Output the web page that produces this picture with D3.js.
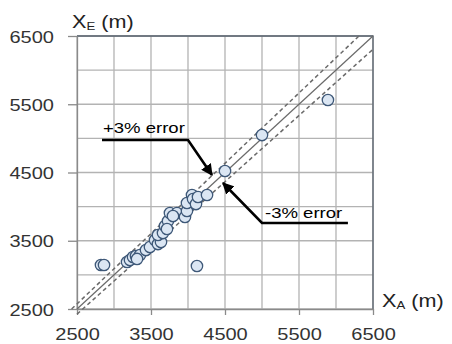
<!DOCTYPE html>
<html><head><meta charset="utf-8">
<script src="https://cdn.jsdelivr.net/npm/d3@7"></script>
<style>body{margin:0;background:#fff}svg{display:block}</style>
</head><body>
<svg id="c" width="452" height="344"></svg>
<script>
const xTicks = [2500, 3500, 4500, 5500, 6500];
const yTicks = [2500, 3500, 4500, 5500, 6500];
const gridValues = [2500,3000,3500,4000,4500,5000,5500,6000,6500];
const actualX = [2824,2865,3176,3216,3257,3297,3351,3311,3432,3486,3554,3594,3635,3594,3662,3689,3730,3716,3756,3851,3797,3959,3986,3986,4054,4068,4108,4135,4257,4121,4500,5000,5891];
const estimatedY = [3145,3145,3189,3218,3262,3276,3291,3233,3364,3408,3511,3452,3482,3584,3613,3716,3789,3672,3906,3906,3862,3848,3936,4053,4170,4112,4038,4141,4170,3130,4522,5049,5562];
const errorFactors = [1.03, 0.97];
const annotations = [
  {text: "+3% error", path: [[2838,4976],[4000,4976],[4324,4463]], textAt: [2850,5085]},
  {text: "-3% error", path: [[6161,3760],[5000,3760],[4473,4346]], textAt: [5040,3830]}
];

const svg = d3.select("#c");
const x = d3.scaleLinear().domain([2500,6500]).range([77,373]);
const y = d3.scaleLinear().domain([2500,6500]).range([309,36]);
const FONT = "'Liberation Sans', Arial, sans-serif";

svg.append("defs").append("marker")
  .attr("id","ah").attr("viewBox","0 0 10 10").attr("refX",9).attr("refY",5)
  .attr("markerWidth",4.5).attr("markerHeight",4.5).attr("orient","auto")
  .append("path").attr("d","M0,0 L10,5 L0,10 z").attr("fill","#000");

// grid
const g = svg.append("g");
g.selectAll(".gx").data(gridValues).join("line")
  .attr("x1",d=>x(d)).attr("x2",d=>x(d)).attr("y1",y(2500)).attr("y2",y(6500))
  .attr("stroke","#b3b3b3").attr("stroke-width",1.3);
g.selectAll(".gy").data(gridValues).join("line")
  .attr("y1",d=>y(d)).attr("y2",d=>y(d)).attr("x1",x(2500)).attr("x2",x(6500))
  .attr("stroke","#b3b3b3").attr("stroke-width",1.3);

// border top/right
svg.append("path")
  .attr("d",`M${x(2500)},${y(6500)}H${x(6500)}V${y(2500)}`)
  .attr("fill","none").attr("stroke","#56606c").attr("stroke-width",1.3);

// axes
const xAxis = d3.axisBottom(x).tickValues(xTicks).tickSize(6).tickSizeOuter(0).tickFormat(d3.format("d"));
const yAxis = d3.axisLeft(y).tickValues(yTicks).tickSize(9).tickSizeOuter(0).tickFormat(d3.format("d"));
const gx = svg.append("g").attr("transform",`translate(0,${y(2500)})`).call(xAxis);
const gy = svg.append("g").attr("transform",`translate(${x(2500)},0)`).call(yAxis);
[gx,gy].forEach(a=>{
  a.selectAll("path,line").attr("stroke","#8a8a8a").attr("stroke-width",1.3);
  a.selectAll("text").remove();
});
// tick labels (stretched)
gx.selectAll(".tick").append("text")
  .attr("transform","translate(0,31) scale(1.25,1)")
  .attr("text-anchor","middle").attr("font-family",FONT).attr("font-size",16).attr("fill","#333")
  .text(d=>d3.format("d")(d));
gy.selectAll(".tick").append("text")
  .attr("transform","translate(-23,6) scale(1.25,1)")
  .attr("text-anchor","end").attr("font-family",FONT).attr("font-size",16).attr("fill","#333")
  .text(d=>d3.format("d")(d));

// diagonal lines
const line = d3.line().x(d=>x(d[0])).y(d=>y(d[1]));
svg.append("path").attr("d",line([[2500,2500],[6500,6500]]))
  .attr("stroke","#6a6a6a").attr("stroke-width",1.2).attr("fill","none");
errorFactors.forEach(f=>{
  const x0 = f>1 ? 2500/f : 2500;
  const x1 = f>1 ? 6500/f : 6500;
  svg.append("path").attr("d",line([[x0,x0*f],[x1,x1*f]]))
    .attr("stroke","#6a6a6a").attr("stroke-width",1.5).attr("stroke-dasharray","4,3").attr("fill","none");
});

// points
svg.append("g").selectAll("circle").data(actualX.map((v,i)=>[v,estimatedY[i]])).join("circle")
  .attr("cx",d=>x(d[0])).attr("cy",d=>y(d[1])).attr("r",5.7)
  .attr("fill","#dbe6f3").attr("stroke","#3e5878").attr("stroke-width",1.3);

// annotations
annotations.forEach(a=>{
  svg.append("path").attr("d",line(a.path)).attr("fill","none")
    .attr("stroke","#000").attr("stroke-width",2.6).attr("marker-end","url(#ah)");
  svg.append("text")
    .attr("transform",`translate(${x(a.textAt[0])},${y(a.textAt[1])}) scale(1.28,1)`)
    .attr("font-family",FONT).attr("font-size",14.5).attr("fill","#000").text(a.text);
});

// axis titles
function title(tx,ty,sub){
  const t = svg.append("text").attr("transform",`translate(${tx},${ty}) scale(1.2,1)`)
    .attr("font-family",FONT).attr("font-size",18).attr("fill","#222");
  t.append("tspan").text("X");
  t.append("tspan").attr("font-size",11).attr("dy",2).text(sub);
  t.append("tspan").attr("dy",-2).text(" (m)");
}
title(72,28,"E");
title(382,307,"A");
</script>
</body></html>
